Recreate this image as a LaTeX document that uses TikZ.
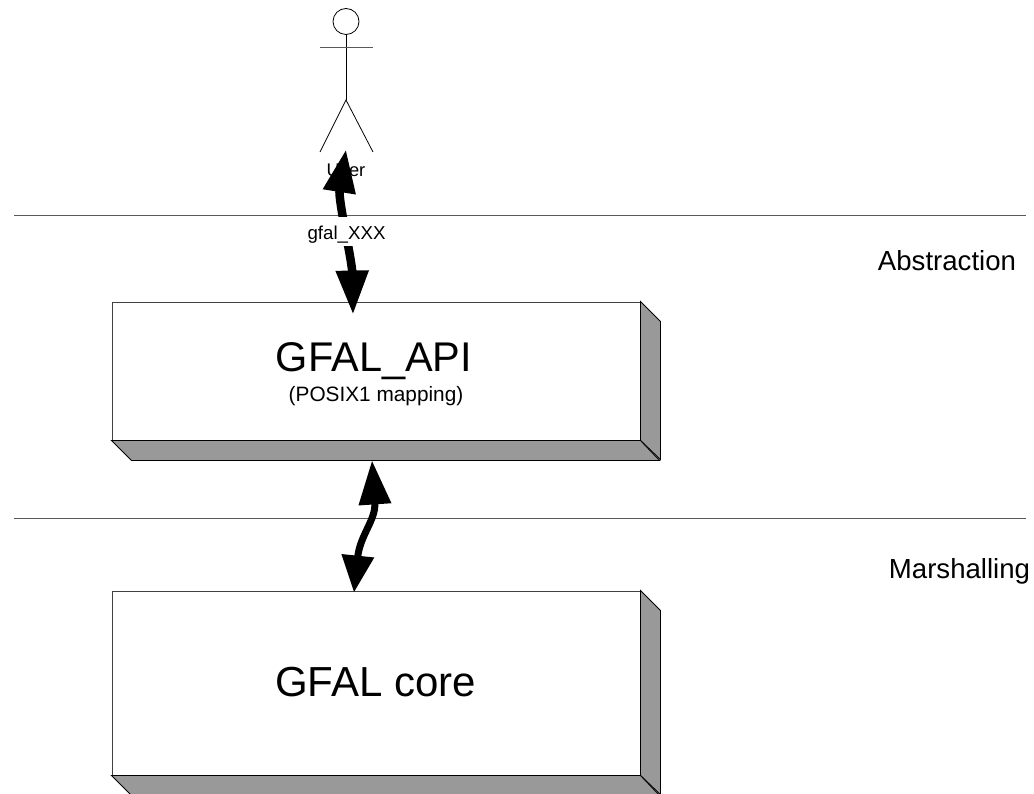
\documentclass[tikz,border=0pt]{standalone}
\usepackage{fontspec}
\setmainfont{Liberation Sans}
\usetikzlibrary{arrows.meta}
\tikzset{
  boxfront/.style={draw=black!75,line width=0.9pt,fill=white,minimum width=528pt,inner sep=0pt,align=center},
  sideface/.style={draw=black,line width=0.9pt,fill=black!40},
  rule/.style={draw=black!65,line width=0.9pt},
  figline/.style={draw=black,line width=0.8pt},
  flow/.style={draw=black,{Triangle[length=43pt,width=31pt]}-{Triangle[length=44pt,width=31pt]}},
}
\begin{document}
\begin{tikzpicture}[x=1pt,y=-1pt]
\useasboundingbox (0,0) rectangle (1034,794);
\fill[white] (0,0) rectangle (1034,794);
% layer rules
\coordinate (r1a) at (14,215); \coordinate (r1b) at (1026,215);
\coordinate (r2a) at (14,518); \coordinate (r2b) at (1026,518);
\draw[rule] (r1a) -- (r1b);
\draw[rule] (r2a) -- (r2b);
\node[font=\fontsize{27.6}{30}\selectfont] (abs) at (947,261) {Abstraction};
\node[font=\fontsize{27.6}{30}\selectfont] (mar) at (959.5,571) {Marshalling};
% actor
\draw[figline] (346,21.5) circle[radius=13];
\draw[figline] (346,34.5) -- (346,100);
\draw[draw=black!65,line width=1pt] (320,48) -- (373,48);
\draw[figline] (320,152) -- (346,100) -- (373,152);
\node[font=\fontsize{18.3}{20}\selectfont,inner sep=0pt] (user) at (346,170) {User};
% boxes
\node[boxfront,minimum height=138pt] (api) at (376,371) {};
\node[boxfront,minimum height=184pt] (core) at (376,683) {};
\draw[sideface] (api.north east) -- ++(20,20) -- ++(0,138) -- (api.south east) -- cycle;
\draw[sideface] (api.south west) -- ++(20,20) -- ++(528,0) -- (api.south east) -- cycle;
\draw[sideface] (core.north east) -- ++(20,20) -- ++(0,184) -- (core.south east) -- cycle;
\draw[sideface] (core.south west) -- ++(20,20) -- ++(528,0) -- (core.south east) -- cycle;
\node[font=\fontsize{41.5}{44}\selectfont,inner sep=0pt] (apit) at (374,361) {GFAL\_API};
\node[font=\fontsize{20.8}{23}\selectfont,inner sep=0pt] (apis) at (376,396.5) {(POSIX1 mapping)};
\node[font=\fontsize{42}{44}\selectfont,inner sep=0pt] (coret) at (375.5,682) {GFAL core};
% connectors
\draw[flow,line width=8.5pt] ([yshift=14pt]user.north) .. controls (338,200) and (352,260) .. ([xshift=-23pt,yshift=-13pt]api.north);
\node[fill=white,inner xsep=1pt,inner ysep=0pt,minimum height=29.5pt,text height=17pt,text depth=0pt,font=\fontsize{18.7}{20}\selectfont] (fx) at (346.5,231.5) {gfal\_XXX};
\draw[draw=black,line width=7pt,{Triangle[length=44pt,width=31pt]}-{Triangle[length=37pt,width=31pt]}]
  ([xshift=-4pt,yshift=-20pt]api.south) .. controls (376,520) and (360,535) .. ([xshift=-22pt,yshift=-2pt]core.north);
\end{tikzpicture}
\end{document}
